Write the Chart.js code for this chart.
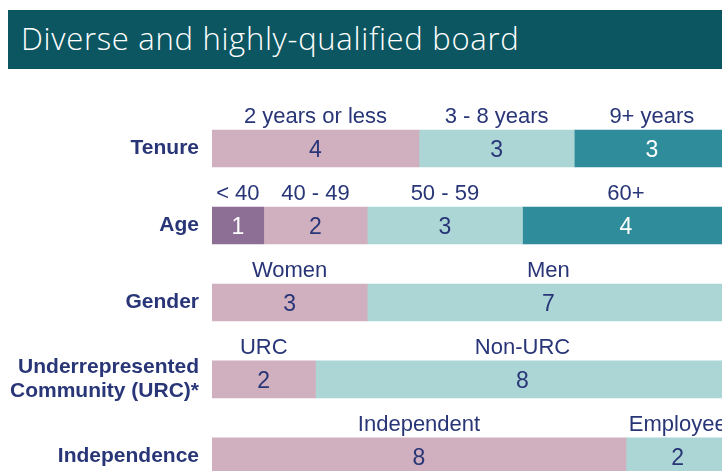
<!DOCTYPE html>
<html>
<head>
<meta charset="utf-8">
<script src="https://cdn.jsdelivr.net/npm/chart.js@4.4.1/dist/chart.umd.min.js"></script>
<style>
  html, body { margin: 0; padding: 0; background: #fff; overflow: hidden; }
  #wrap { position: relative; width: 722px; height: 471px; overflow: hidden; }
  #board { position: absolute; left: 0; top: 0; }
  #header {
    position: absolute; left: 8px; top: 10px; width: 714px; height: 59px;
    background: #0b5661; color: #fff;
    font-family: "Open Sans", sans-serif; font-weight: 300; font-size: 31px; letter-spacing: 0.7px;
    line-height: 56px; padding-left: 13px; box-sizing: border-box; white-space: nowrap;
  }
</style>
</head>
<body>
<div id="wrap">
  <canvas id="board" width="722" height="520"></canvas>
  <div id="header">Diverse and highly-qualified board</div>
</div>
<script>
const categories = ['Tenure', 'Age', 'Gender', ['Underrepresented', 'Community (URC)*'], 'Independence'];
const segLabels = [
  ['2 years or less', '3 - 8 years', '9+ years'],
  ['< 40', '40 - 49', '50 - 59', '60+'],
  ['Women', 'Men'],
  ['URC', 'Non-URC'],
  ['Independent', 'Employee']
];
const segValues = [
  [4, 3, 3],
  [1, 2, 3, 4],
  [3, 7],
  [2, 8],
  [8, 2]
];

const navy = '#283577';
const pink = '#d0b0bf';
const mint = '#acd5d5';
const teal = '#2e8c9b';
const plum = '#8d6e95';
const segColors = [
  [pink, mint, teal],
  [plum, pink, mint, teal],
  [pink, mint],
  [pink, mint],
  [pink, mint]
];
const darkFills = [teal, plum];

const slots = Math.max(...segValues.map(r => r.length));
const datasets = [];
for (let i = 0; i < slots; i++) {
  datasets.push({
    label: 'slot' + i,
    data: segValues.map(r => (r[i] === undefined ? null : r[i])),
    backgroundColor: segColors.map(r => r[i] || 'transparent'),
    borderWidth: 0,
    barThickness: 37
  });
}

// draws the segment name above each piece and the count inside it
const segText = {
  id: 'segText',
  afterDatasetsDraw(chart) {
    const ctx = chart.ctx;
    ctx.save();
    ctx.textAlign = 'center';
    chart.data.datasets.forEach((ds, i) => {
      const meta = chart.getDatasetMeta(i);
      meta.data.forEach((bar, row) => {
        const v = ds.data[row];
        if (v === null) return;
        const left = Math.min(bar.x, bar.base);
        const right = Math.max(bar.x, bar.base);
        const cx = (left + right) / 2;
        const top = bar.y - bar.height / 2;
        ctx.fillStyle = navy;
        ctx.font = '22px "Liberation Sans", Arial, sans-serif';
        ctx.textBaseline = 'alphabetic';
        ctx.fillText(segLabels[row][i], cx, top - 7);
        ctx.font = '23px "Liberation Sans", Arial, sans-serif';
        ctx.textBaseline = 'middle';
        ctx.fillStyle = darkFills.includes(segColors[row][i]) ? '#ffffff' : navy;
        ctx.fillText(String(v), cx, bar.y + 2);
      });
    });
    ctx.restore();
  }
};

new Chart(document.getElementById('board'), {
  type: 'bar',
  data: { labels: categories, datasets: datasets },
  plugins: [segText],
  options: {
    indexAxis: 'y',
    responsive: false,
    animation: false,
    layout: { padding: { top: 110, bottom: 22, left: 0, right: 0 } },
    plugins: { legend: { display: false }, tooltip: { enabled: false }, title: { display: false } },
    scales: {
      x: {
        stacked: true, min: 0, max: 9.855, display: false
      },
      y: {
        stacked: true,
        grid: { display: false, drawTicks: false },
        border: { display: false },
        afterFit(scale) { scale.width = 212; },
        ticks: {
          color: navy,
          padding: 13,
          font: { family: '"Liberation Sans", Arial, sans-serif', size: 21, weight: 'bold', lineHeight: 1.15 }
        }
      }
    }
  }
});
</script>
</body>
</html>
